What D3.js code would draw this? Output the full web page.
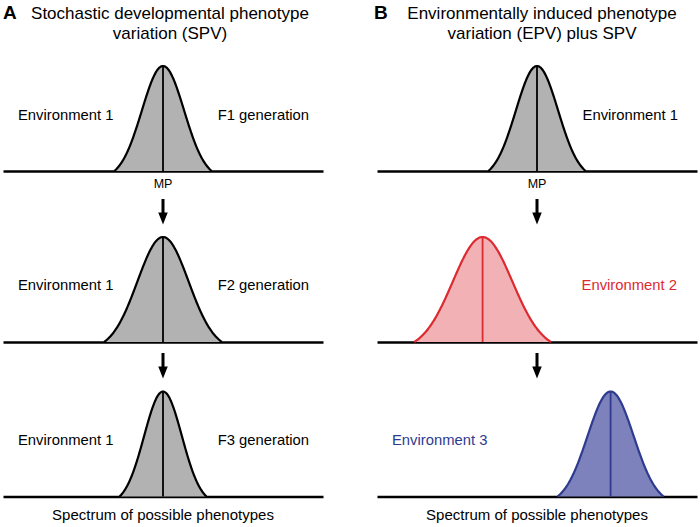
<!DOCTYPE html>
<html>
<head>
<meta charset="utf-8">
<script src="https://cdn.jsdelivr.net/npm/d3@7"></script>
<style>
  html, body { margin: 0; padding: 0; background: #fff; }
  svg { display: block; font-family: "Liberation Sans", Arial, sans-serif; }
</style>
</head>
<body>
<svg id="chart" width="700" height="527"></svg>
<script>
// ---- data ----
const panelLetters = ["A", "B"];
const titleLinesA = ["Stochastic developmental phenotype", "variation (SPV)"];
const titleLinesB = ["Environmentally induced phenotype", "variation (EPV) plus SPV"];
const leftLabelsA = ["Environment 1", "Environment 1", "Environment 1"];
const rightLabelsA = ["F1 generation", "F2 generation", "F3 generation"];
const labelsB = ["Environment 1", "Environment 2", "Environment 3"];
const meansA = [50, 50, 50];
const sdsA = [6.6, 8.0, 5.9];
const meansB = [50, 33, 73];
const sdsB = [6.6, 9.3, 7.2];
const mpLabel = "MP";
const footerLabel = "Spectrum of possible phenotypes";

// ---- styles ----
const colorsB = [
  { fill: "#b2b2b2", stroke: "#000000", text: "#000000" },
  { fill: "#f2b1b4", stroke: "#dc2a30", text: "#dc2a30" },
  { fill: "#7d82bd", stroke: "#2e3b8f", text: "#2e3b8f" }
];
const grayStyle = { fill: "#b2b2b2", stroke: "#000000", text: "#000000" };

const svg = d3.select("#chart");
const baselines = [171, 342, 496.5];
const peakHeight = 105;
const labelY = [119.5, 289.5, 444.5];
const K = 2.3; // truncation in sd units

const xA = d3.scaleLinear().domain([0, 100]).range([3, 323]);
const xB = d3.scaleLinear().domain([0, 100]).range([377, 697]);

function drawCurve(g, x, base, mean, sd, style) {
  const y = d3.scaleLinear().domain([0, 1]).range([base, base - peakHeight]);
  const floor = Math.exp(-K * K / 2);
  const pts = d3.range(-K, K + 0.0001, 0.02).map(t => {
    const v = (Math.exp(-t * t / 2) - floor) / (1 - floor);
    return [mean + t * sd, Math.max(0, v)];
  });
  const line = d3.line().x(d => x(d[0])).y(d => y(d[1])).curve(d3.curveBasis);
  const area = d3.area().x(d => x(d[0])).y0(y(0)).y1(d => y(d[1])).curve(d3.curveBasis);
  g.append("path").attr("d", area(pts)).attr("fill", style.fill);
  g.append("line")
    .attr("x1", x(mean)).attr("x2", x(mean))
    .attr("y1", y(0)).attr("y2", y(1))
    .attr("stroke", style.stroke).attr("stroke-width", 1.8);
  g.append("path").attr("d", line(pts)).attr("fill", "none")
    .attr("stroke", style.stroke).attr("stroke-width", 2.2)
    .attr("stroke-linejoin", "round");
}

function drawAxis(g, x, base) {
  const axis = d3.axisBottom(x).tickValues([]).tickSizeOuter(0);
  const ag = g.append("g").attr("transform", `translate(0,${base})`).call(axis);
  ag.select(".domain").attr("stroke", "#000").attr("stroke-width", 2.6);
}

function drawArrow(g, cx, y0, y1) {
  const shaftW = 3, headW = 9.5, headH = 12;
  const p = d3.path();
  p.moveTo(cx - shaftW / 2, y0);
  p.lineTo(cx + shaftW / 2, y0);
  p.lineTo(cx + shaftW / 2, y1 - headH);
  p.lineTo(cx + headW / 2, y1 - headH);
  p.lineTo(cx, y1);
  p.lineTo(cx - headW / 2, y1 - headH);
  p.lineTo(cx - shaftW / 2, y1 - headH);
  p.closePath();
  g.append("path").attr("d", p.toString()).attr("fill", "#000");
}

// ---- Panel A ----
const gA = svg.append("g");
gA.append("text").attr("x", 3).attr("y", 18.5).attr("font-size", 19)
  .attr("font-weight", "bold").text(panelLetters[0]);
titleLinesA.forEach((t, i) => {
  gA.append("text").attr("x", 170).attr("y", 18.5 + i * 20)
    .attr("text-anchor", "middle").attr("font-size", 17).text(t);
});
meansA.forEach((m, i) => {
  drawAxis(gA, xA, baselines[i]);
  drawCurve(gA, xA, baselines[i], m, sdsA[i], grayStyle);
  gA.append("text").attr("x", 18).attr("y", labelY[i]).attr("font-size", 14.8)
    .text(leftLabelsA[i]);
  gA.append("text").attr("x", 309).attr("y", labelY[i]).attr("font-size", 14.8)
    .attr("text-anchor", "end").text(rightLabelsA[i]);
});
gA.append("text").attr("x", xA(50)).attr("y", 187.5).attr("font-size", 12.5)
  .attr("text-anchor", "middle").text(mpLabel);
drawArrow(gA, xA(50), 199, 224.5);
drawArrow(gA, xA(50), 353, 378.5);
gA.append("text").attr("x", xA(50)).attr("y", 519.5).attr("font-size", 15)
  .attr("text-anchor", "middle").text(footerLabel);

// ---- Panel B ----
const gB = svg.append("g");
gB.append("text").attr("x", 374).attr("y", 18.5).attr("font-size", 19)
  .attr("font-weight", "bold").text(panelLetters[1]);
titleLinesB.forEach((t, i) => {
  gB.append("text").attr("x", 542).attr("y", 18.5 + i * 20)
    .attr("text-anchor", "middle").attr("font-size", 17).text(t);
});
meansB.forEach((m, i) => {
  drawAxis(gB, xB, baselines[i]);
  drawCurve(gB, xB, baselines[i], m, sdsB[i], colorsB[i]);
});
gB.append("text").attr("x", 678).attr("y", labelY[0]).attr("font-size", 14.8)
  .attr("text-anchor", "end").attr("fill", colorsB[0].text).text(labelsB[0]);
gB.append("text").attr("x", 677).attr("y", labelY[1]).attr("font-size", 14.8)
  .attr("text-anchor", "end").attr("fill", colorsB[1].text).text(labelsB[1]);
gB.append("text").attr("x", 392).attr("y", labelY[2]).attr("font-size", 14.8)
  .attr("fill", colorsB[2].text).text(labelsB[2]);
gB.append("text").attr("x", xB(50)).attr("y", 187.5).attr("font-size", 12.5)
  .attr("text-anchor", "middle").text(mpLabel);
drawArrow(gB, xB(50), 199, 224.5);
drawArrow(gB, xB(50), 353, 378.5);
gB.append("text").attr("x", xB(50)).attr("y", 519.5).attr("font-size", 15)
  .attr("text-anchor", "middle").text(footerLabel);
</script>
</body>
</html>
